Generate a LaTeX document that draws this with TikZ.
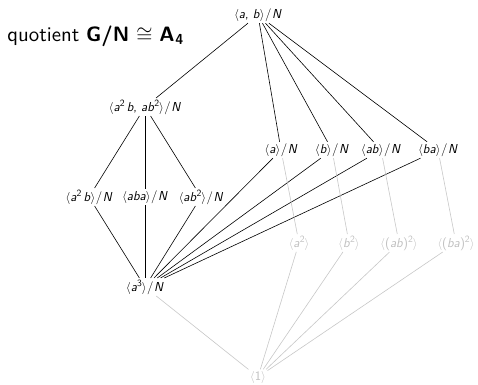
\documentclass[tikz,border=0pt]{standalone}
\newcommand\gn[1]{$\langle$#1$\rangle$}
\newcommand\qN{\kern0.6pt/\kern0.6pt\textit{N}}
\newcommand\sq[1]{\raisebox{0.85ex}{\upshape\fontsize{9.6}{10}\selectfont #1}}
\begin{document}
\begin{tikzpicture}[x=1pt,y=-1pt,
  every node/.style={font=\sffamily\fontsize{13}{15}\selectfont, inner sep=1.5pt},
  lat/.style={text=black},
  faint/.style={text=black!25},
  edge/.style={draw=black, line width=0.6pt},
  fedge/.style={draw=black!22, line width=0.6pt}]
\useasboundingbox (0,0) rectangle (478,384);
\node[anchor=west, font=\sffamily\fontsize{10}{12}\selectfont, scale=2.08, inner sep=0pt] (title) at (7,36) {quotient \textbf{G/N} $\cong$ \textbf{A\kern0.3pt\raisebox{-0.35ex}{\fontsize{7}{8}\selectfont 4}}};
\node[lat] (top) at (258,15) {\gn{\textit{a}, \textit{b}}\qN};
\node[lat] (v4) at (145,107) {\gn{\textit{a}\sq{2}\,\textit{b}, \textit{ab}\sq{2}}\qN};
\node[lat] (c1) at (89,197) {\gn{\textit{a}\sq{2}\,\textit{b}}\qN};
\node[lat] (c2) at (145,197) {\gn{\textit{aba}}\qN};
\node[lat] (c3) at (201,197) {\gn{\textit{ab}\sq{2}}\qN};
\node[lat] (a3) at (145,287) {\gn{\textit{a}\sq{3}}\qN};
\node[lat] (qa) at (281,150) {\gn{\textit{a}}\qN};
\node[lat] (qb) at (332,150) {\gn{\textit{b}}\qN};
\node[lat] (qab) at (381,150) {\gn{\textit{ab}}\qN};
\node[lat] (qba) at (438,150) {\gn{\textit{ba}}\qN};
\node[faint] (sa) at (299,243) {\gn{\textit{a}\sq{2}}};
\node[faint] (sb) at (349,243) {\gn{\textit{b}\sq{2}}};
\node[faint] (sab) at (399,243) {\gn{(\textit{ab})\sq{2}}};
\node[faint] (sba) at (456,243) {\gn{(\textit{ba})\sq{2}}};
\node[faint] (one) at (258,377) {\gn{1}};
\foreach \t in {v4,qa,qb,qab,qba} \draw[edge] (top) -- (\t);
\foreach \t in {c1,c2,c3} {\draw[edge] (v4) -- (\t); \draw[edge] (\t) -- (a3);}
\foreach \t in {qa,qb,qab,qba} \draw[edge] (\t) -- (a3);
\draw[fedge] (qa) -- (sa);
\draw[fedge] (qb) -- (sb);
\draw[fedge] (qab) -- (sab);
\draw[fedge] (qba) -- (sba);
\foreach \t in {a3,sa,sb,sab,sba} \draw[fedge] (\t) -- (one);
\end{tikzpicture}
\end{document}
